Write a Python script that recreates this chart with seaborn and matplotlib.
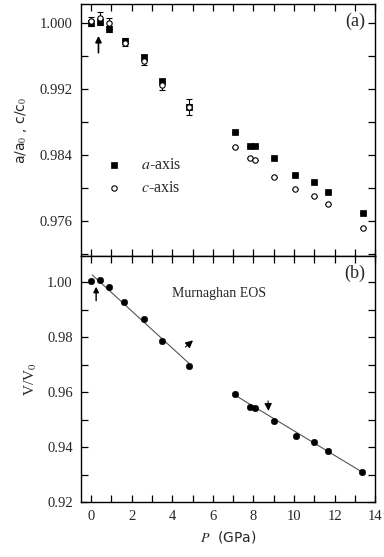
import numpy as np
import matplotlib
matplotlib.use("Agg")
import matplotlib.pyplot as plt
import seaborn as sns
from matplotlib.ticker import MultipleLocator

# pressure points (GPa)
p = [0.0, 0.44, 0.88, 1.67, 2.62, 3.47, 4.81, 7.07, 7.84, 8.10, 9.02, 10.07, 10.99, 11.69, 13.38]

# lattice parameters relative to ambient
a_ratio = [1.0000, 1.0001, 0.99927, 0.99782, 0.99581, 0.99293, 0.98982,
           0.98679, 0.98509, 0.98509, 0.98364, 0.98158, 0.98069, 0.97948, 0.97697]
c_ratio = [1.00017, 1.00065, 0.99993, 0.99758, 0.99532, 0.99241, 0.98982,
           0.98497, 0.98364, 0.98336, 0.98134, 0.97988, 0.97900, 0.97803, 0.97508]
a_err = [0.0003, 0.0004, 0.0004, 0.0003, 0.0003, 0.0003, 0.0003,
         0, 0, 0, 0, 0, 0, 0, 0]
c_err = [0.0006, 0.0007, 0.0007, 0.0004, 0.0004, 0.0005, 0.0010,
         0, 0, 0, 0, 0, 0, 0, 0]

# volume relative to ambient
v_p = [0.0, 0.44, 0.88, 1.64, 2.62, 3.47, 4.83, 7.07, 7.82, 8.10, 9.00, 10.09, 10.99, 11.69, 13.36]
v_ratio = [1.0003, 1.0009, 0.9984, 0.9929, 0.9868, 0.9788, 0.9696,
           0.9592, 0.9546, 0.9543, 0.9495, 0.9442, 0.9418, 0.9386, 0.9309]

# Murnaghan EOS fit segments
fit1_p = [0.05, 4.85]
fit1_v = [1.0027, 0.9703]
fit2_p = [7.07, 13.36]
fit2_v = [0.9590, 0.9309]

sns.set_style("ticks")
plt.rcParams["font.family"] = ["Liberation Serif", "DejaVu Serif"]
plt.rcParams["mathtext.fontset"] = "stix"

fig = plt.figure(figsize=(3.84, 5.57), dpi=100)
ax1 = fig.add_axes([0.211, 0.540, 0.766, 0.453])
ax2 = fig.add_axes([0.211, 0.0987, 0.766, 0.4413], sharex=ax1)

arrow_kw = dict(arrowstyle="-|>", color="black", shrinkA=0, shrinkB=0)

# =========================
# (a) lattice parameters
# =========================
ax1.errorbar(p, a_ratio, yerr=a_err, fmt="none", ecolor="black", elinewidth=0.8,
             capsize=2.5, capthick=0.8, zorder=2)
ax1.errorbar(p, c_ratio, yerr=c_err, fmt="none", ecolor="black", elinewidth=0.8,
             capsize=2.5, capthick=0.8, zorder=2)
sns.scatterplot(x=p, y=a_ratio, ax=ax1, marker="s", s=18, color="black",
                edgecolor="black", linewidth=0.5, zorder=3, label="$a$-axis")
sns.scatterplot(x=p, y=c_ratio, ax=ax1, marker="o", s=15, facecolor="white",
                edgecolor="black", linewidth=0.8, zorder=4, label="$c$-axis")
ax1.legend(loc="lower left", bbox_to_anchor=(0.01, 0.18), frameon=False,
           handletextpad=0.7, labelspacing=0.45,
           prop={"family": "Liberation Serif", "size": 11.5})
ax1.annotate("", xy=(0.36, 0.99842), xytext=(0.36, 0.99638),
             arrowprops=dict(arrow_kw, lw=1.2, mutation_scale=9))
ax1.text(0.965, 0.93, "(a)", transform=ax1.transAxes, ha="right", va="center", fontsize=13)
ax1.set_ylim(0.9717, 1.0023)
ax1.yaxis.set_major_locator(MultipleLocator(0.008))
ax1.yaxis.set_minor_locator(MultipleLocator(0.004))
ax1.set_ylabel("a/a$_0$ , c/c$_0$", family="DejaVu Sans", fontsize=10, labelpad=8)
ax1.tick_params(labelbottom=False)

# =========================
# (b) volume
# =========================
sns.lineplot(x=fit1_p, y=fit1_v, ax=ax2, color="#555555", linewidth=0.8)
sns.lineplot(x=fit2_p, y=fit2_v, ax=ax2, color="#555555", linewidth=0.8)
sns.scatterplot(x=v_p, y=v_ratio, ax=ax2, marker="o", s=22, color="black",
                edgecolor="black", zorder=3)
ax2.annotate("", xy=(0.245, 0.9984), xytext=(0.245, 0.9933),
             arrowprops=dict(arrow_kw, lw=1.0, mutation_scale=8))
ax2.annotate("", xy=(5.02, 0.97886), xytext=(4.65, 0.97647),
             arrowprops=dict(arrow_kw, lw=0.8, mutation_scale=11))
ax2.annotate("", xy=(8.74, 0.95316), xytext=(8.72, 0.9568),
             arrowprops=dict(arrow_kw, lw=0.8, mutation_scale=11))
ax2.text(4.0, 0.9958, "Murnaghan EOS", fontsize=10, va="center", ha="left")
ax2.text(0.965, 0.93, "(b)", transform=ax2.transAxes, ha="right", va="center", fontsize=13)
ax2.set_ylim(0.92, 1.0095)
ax2.yaxis.set_major_locator(MultipleLocator(0.02))
ax2.yaxis.set_minor_locator(MultipleLocator(0.01))
ax2.set_xlim(-0.5, 14)
ax2.xaxis.set_major_locator(MultipleLocator(2))
ax2.xaxis.set_minor_locator(MultipleLocator(1))
ax2.set_ylabel("V/V$_0$", fontsize=11, labelpad=6)
ax2.set_xlabel("$P$  (GPa)", family="DejaVu Sans", fontsize=10, labelpad=4)
ax2.yaxis.set_major_formatter(plt.FuncFormatter(lambda v, _: f"{v:.2f}"))
ax1.yaxis.set_major_formatter(plt.FuncFormatter(lambda v, _: f"{v:.3f}"))

for ax in (ax1, ax2):
    for s in ax.spines.values():
        s.set_visible(True)
        s.set_linewidth(1.0)
        s.set_color("black")
    ax.tick_params(which="both", direction="in", top=True, right=True,
                   width=0.9, color="black", labelsize=10.5, pad=6)
    ax.tick_params(which="major", length=5)
    ax.tick_params(which="minor", length=5)

fig.savefig("out.png", dpi=100)
